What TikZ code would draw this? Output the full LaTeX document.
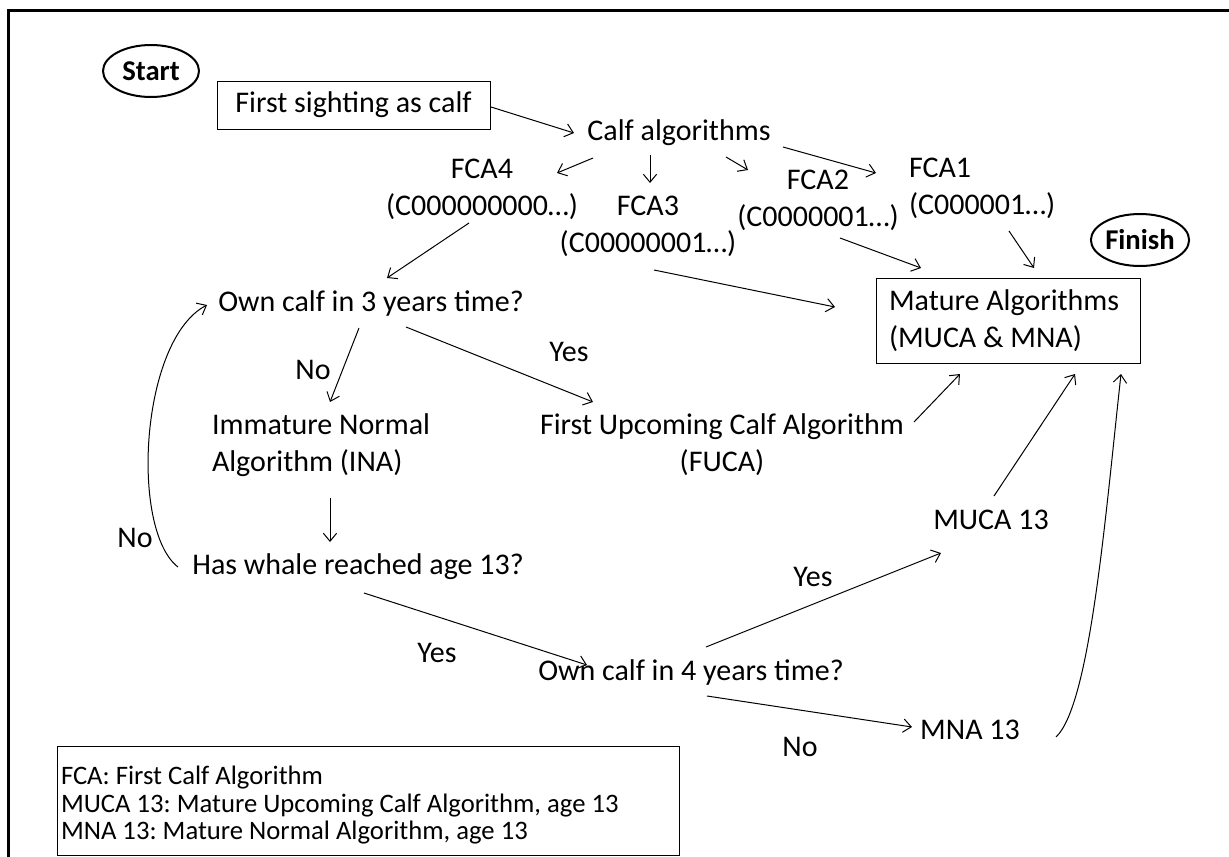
\documentclass[tikz,border=0pt]{standalone}
\usepackage{fontspec}
\setmainfont{Carlito}
\frenchspacing
\usetikzlibrary{arrows.meta,calc,shapes.geometric}
\begin{document}
\begin{tikzpicture}[x=0.75pt,y=-0.75pt,
  every node/.style={inner sep=0pt, outer sep=0pt, text=black},
  txt/.style={font=\fontsize{22.5}{27.75}\selectfont, align=center},
  txtl/.style={font=\fontsize{22.5}{27.75}\selectfont, align=flush left},
  lbl/.style={font=\fontsize{22.5}{27}\selectfont},
  term/.style={draw, line width=1.5pt, ellipse, minimum width=72pt, minimum height=39pt, font=\bfseries\fontsize{21.5}{26}\selectfont},
  box/.style={draw, line width=0.75pt, rectangle},
  conn/.style={line width=0.75pt, -{Straight Barb[length=6pt,width=10pt]}},
]
\useasboundingbox (0,0) rectangle (1229,857);
\draw[line width=2.25pt] (1229,10) -- (8,10) -- (8,857);

% nodes
\node[term] (start) at (151,71) {Start};
\node[term] (finish) at (1140,240) {Finish};
\node[box, txt, minimum width=204.75pt, minimum height=36pt] (first) at (353.5,105) {First sighting as calf};
\node[txt] (calf) at (679,133) {Calf algorithms};
\node[txt] (fca4) at (482,189.5) {FCA4\\(C000000000…)};
\node[txt] (fca3) at (648,226.5) {FCA3\\(C00000001…)};
\node[txt] (fca2) at (818,200) {FCA2\\(C0000001…)};
\node[txtl, anchor=west] (fca1) at (909,188.5) {FCA1\\(C000001…)};
\node[box, txtl, minimum width=198pt, minimum height=63.75pt, text width=178.5pt, inner xsep=9.75pt] (mature) at (1008,320.5) {Mature Algorithms\\(MUCA \& MNA)};
\node[txt] (own3) at (371,303) {Own calf in 3 years time?};
\node[txtl, anchor=west] (ina) at (212,445) {Immature Normal\\Algorithm (INA)};
\node[txt] (fuca) at (722,445) {First Upcoming Calf Algorithm\\(FUCA)};
\node[txt] (has) at (358,567) {Has whale reached age 13?};
\node[txt] (muca) at (991,520) {MUCA 13};
\node[txt] (own4) at (691,672) {Own calf in 4 years time?};
\node[txt] (mna) at (970,730) {MNA 13};
\node[box, minimum width=466.5pt, minimum height=81.75pt, text width=460.5pt, inner xsep=3pt, align=flush left, font=\fontsize{20}{20.5}\selectfont] (legend) at (368,800.5) {\rule{0pt}{21pt}FCA: First Calf Algorithm\\MUCA 13: Mature Upcoming Calf Algorithm, age 13\\MNA 13: Mature Normal Algorithm, age 13};

% labels
\node[lbl] (no1) at (313,370) {No};
\node[lbl] (yes1) at (569,352) {Yes};
\node[lbl] (no2) at (135,538) {No};
\node[lbl] (yes2) at (437,653) {Yes};
\node[lbl] (yes3) at (813,577) {Yes};
\node[lbl] (no3) at (800,747) {No};

% connectors
\draw[conn] ($(first.east)+(1,2)$) -- ($(calf)+(-105,0)$);
\draw[conn] ($(calf)+(-86,25)$) -- ($(fca4)+(75,-16.5)$);
\draw[conn] ($(calf)+(-29,22)$) -- ($(fca3)+(2,-43.5)$);
\draw[conn] ($(calf)+(47,24)$) -- ($(fca2)+(-70,-30)$);
\draw[conn] ($(calf)+(104,14)$) -- ($(fca1.west)+(-33,-15.5)$);
\draw[conn] ($(fca4)+(-13,33.5)$) -- ($(own3)+(16,-25)$);
\draw[conn] ($(fca3)+(6,43.5)$) -- ($(mature)+(-173,-13.5)$);
\draw[conn] ($(fca2)+(22,38)$) -- ($(mature)+(-87,-52.5)$);
\draw[conn] ($(fca1.west)+(100,42.5)$) -- ($(mature)+(26,-52.5)$);
\draw[conn] ($(own3)+(-12,25)$) -- ($(ina.west)+(118,-43)$);
\draw[conn] ($(own3)+(35,24)$) -- ($(fuca)+(-129,-43)$);
\draw[conn] ($(fuca)+(192,-23)$) -- ($(mature)+(-48,53.5)$);
\draw[conn] ($(ina.west)+(118,53)$) -- ($(has)+(-28,-25)$);
\draw[conn] ($(has)+(-180,0)$) .. controls (130,530) and (140,340) .. ($(own3)+(-164,2)$);
\draw[conn] ($(has)+(6,26)$) -- ($(own4)+(-104,-7)$);
\draw[conn] ($(own4)+(15,-25)$) -- ($(muca)+(-50,33)$);
\draw[conn] ($(own4)+(16,24)$) -- ($(mna)+(-58,-3)$);
\draw[conn] ($(muca)+(3,-24)$) -- ($(mature)+(67,53.5)$);
\draw[conn] ($(mna)+(86,7)$) .. controls (1090,705) and (1105,520) .. ($(mature)+(113,53.5)$);
\end{tikzpicture}
\end{document}
